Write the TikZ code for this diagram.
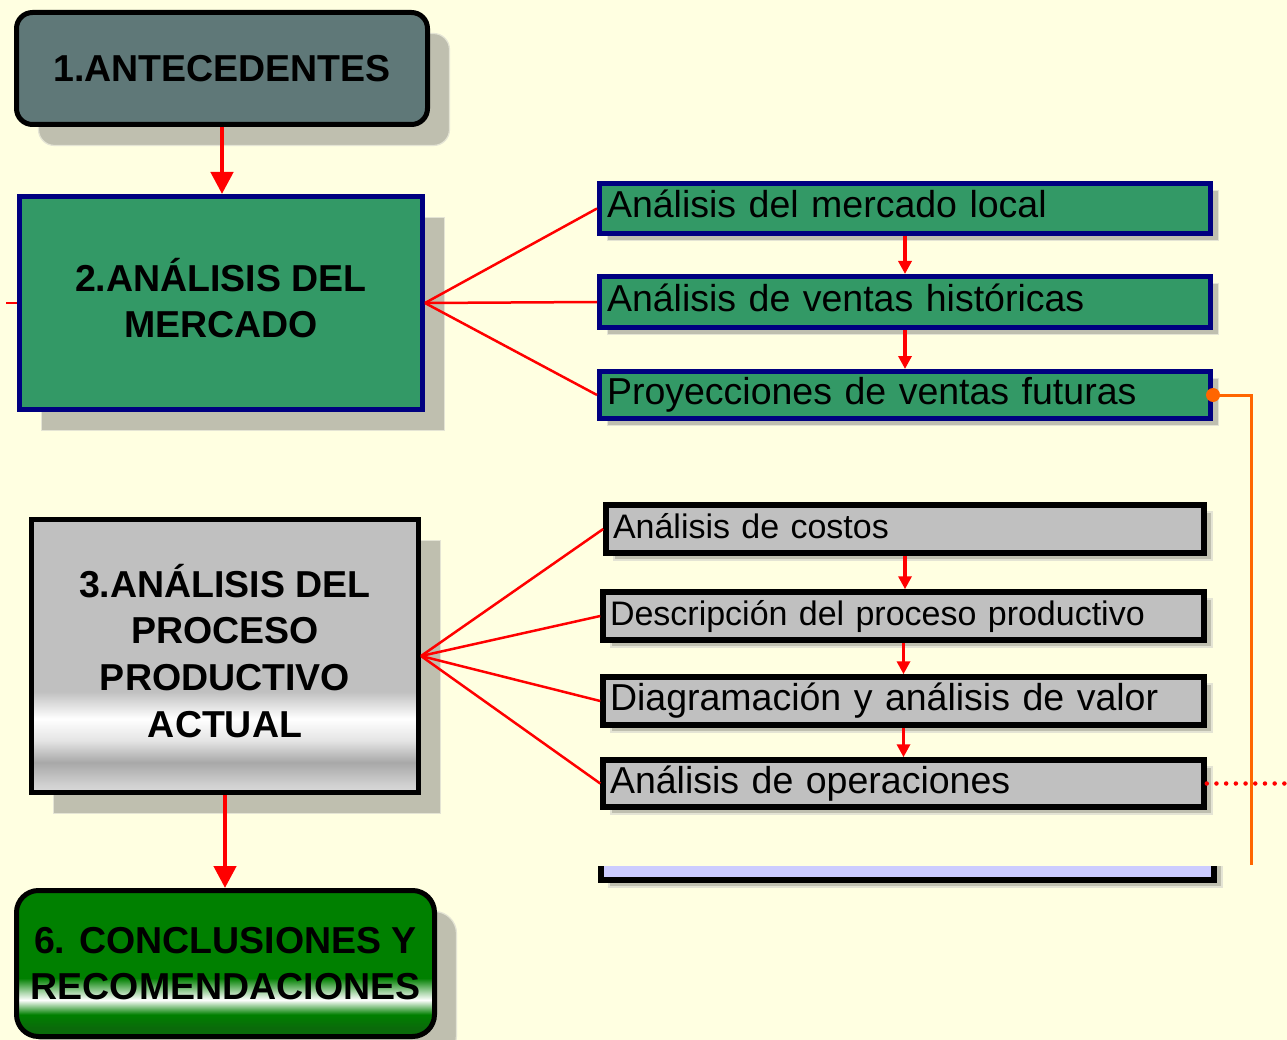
\documentclass[tikz,border=0pt]{standalone}
\usepackage{fontspec}
\setmainfont{Liberation Sans}
\usetikzlibrary{arrows.meta,shadows,calc}
\definecolor{bgc}{HTML}{FFFFE1}
\definecolor{shadowc}{HTML}{BFBFAF}
\definecolor{shadowedge}{HTML}{E4E4D4}
\definecolor{slate}{HTML}{5F7878}
\definecolor{mgreen}{HTML}{339966}
\definecolor{navy}{HTML}{000080}
\definecolor{grayc}{HTML}{C0C0C0}
\definecolor{dgreen}{HTML}{008000}
\definecolor{lav}{HTML}{CCCCFF}
\definecolor{orangec}{HTML}{FF6600}
\definecolor{redc}{HTML}{FF0000}
\definecolor{silA}{HTML}{DADADA}
\definecolor{silB}{HTML}{D0D0D0}
\definecolor{silC}{HTML}{A8A8A8}
\definecolor{silD}{HTML}{E4E4E4}
\definecolor{grA}{HTML}{0A6A0A}
\definecolor{grB}{HTML}{80C080}
\definecolor{grC}{HTML}{B0D8B0}
\pgfdeclareverticalshading{silverband}{100bp}{color(0bp)=(silA); color(25bp)=(silA); color(26.5bp)=(silB); color(30.5bp)=(silC); color(34.5bp)=(silD); color(38.5bp)=(white); color(43.5bp)=(grayc); color(100bp)=(grayc)}
\pgfdeclareverticalshading{greenband}{100bp}{color(0bp)=(grA); color(25bp)=(grA); color(28bp)=(grA); color(32.5bp)=(dgreen); color(35bp)=(grB); color(37.5bp)=(white); color(40bp)=(grC); color(45bp)=(dgreen); color(100bp)=(dgreen)}
\tikzset{
  bigtext/.style={font=\bfseries\fontsize{37.5}{46}\selectfont, align=center, inner sep=0pt},
  bigshadow/.style={general shadow={shadow xshift=22pt, shadow yshift=-21pt, fill=shadowc, draw=shadowedge, line width=1.2pt}},
  smallshadow/.style={general shadow={shadow xshift=8pt, shadow yshift=-7pt, fill=shadowc, draw=shadowedge, line width=1.2pt}},
  greenbox/.style={draw=navy, fill=mgreen, line width=5pt, smallshadow,
    font=\fontsize{37.5}{45}\selectfont, align=left, inner xsep=7.5pt, inner ysep=0pt,
    text height=27pt, text depth=8pt, text width=596pt, minimum width=611pt},
  graybox/.style={draw=black, fill=grayc, line width=5.5pt, smallshadow,
    align=left, inner xsep=7pt, inner ysep=0pt, text width=587pt, minimum width=601pt},
  smallfont/.style={font=\fontsize{34}{40}\selectfont, text height=25pt, text depth=7pt},
  largefont/.style={font=\fontsize{37.5}{45}\selectfont, text height=27pt, text depth=8pt},
  bigarrow/.style={draw=redc, line width=4.5pt, -{Triangle[width=22pt,length=22pt]}},
  smallarrow/.style={draw=redc, line width=3.5pt, -{Triangle[width=13pt,length=13pt]}},
  fanline/.style={draw=redc, line width=2.5pt},
  reddots/.style={draw=redc, line width=4.5pt, line cap=round, dash pattern=on 0pt off 9.7pt},
  orangeline/.style={draw=orangec, line width=3pt},
}
\begin{document}
\begin{tikzpicture}[x=1pt,y=-1pt]
\useasboundingbox (0,0) rectangle (1287,1040);
\fill[bgc] (0,0) rectangle (1287,1040);

% main column
\node[bigtext, draw=black, fill=slate, line width=5pt, rounded corners=16pt, bigshadow,
      minimum width=411pt, minimum height=112pt] (ant) at (222,68.5) {1.ANTECEDENTES};
\node[bigtext, draw=navy, fill=mgreen, line width=5pt, bigshadow,
      minimum width=403pt, minimum height=213pt] (mer) at (221,303)
      {2.ANÁLISIS DEL\\MERCADO\rule[-11pt]{0pt}{11pt}};
\node[bigtext, draw=black, shading=silverband, line width=5pt, bigshadow,
      font=\bfseries\fontsize{37.5}{46.7}\selectfont,
      minimum width=387pt, minimum height=273pt] (proc) at (225,656)
      {3.ANÁLISIS DEL\\PROCESO\\PRODUCTIVO\\ACTUAL\rule[-11pt]{0pt}{11pt}};
\node[bigtext, draw=black, shading=greenband, line width=5pt, rounded corners=22pt, bigshadow,
      minimum width=418pt, minimum height=146pt] (conc) at (225.5,963.5)
      {6. CONCLUSIONES Y\\RECOMENDACIONES};

% market sub-steps
\node[greenbox, minimum height=50pt] (A) at (905,208.5) {Análisis del mercado local};
\node[greenbox, minimum height=51pt] (B) at (905,302) {Análisis de ventas históricas};
\node[greenbox, minimum height=47pt] (C) at (905,395) {Proyecciones de ventas futuras};

% process sub-steps
\node[graybox, smallfont, text width=584pt, minimum width=598pt, minimum height=48pt] (D) at (905,529) {Análisis de costos};
\node[graybox, smallfont, minimum height=48pt] (E) at (903.5,616) {Descripción del proceso productivo};
\node[graybox, largefont, minimum height=48pt] (F) at (903.5,701) {Diagramación y análisis de valor};
\node[graybox, largefont, minimum height=47pt] (G) at (903.5,783.5) {Análisis de operaciones};

% partially hidden box
\begin{scope}
  \clip (560,866) rectangle (1287,905);
  \node[draw=black, fill=lav, line width=6pt, smallshadow, minimum width=613pt, minimum height=40pt, inner sep=0pt] (H) at (907.5,860) {};
\end{scope}

% connectors
\coordinate (stub) at (6,303);
\draw[fanline] (stub) -- (mer.west);
\draw[bigarrow] (ant.south) -- (ant.south |- mer.north);
\draw[bigarrow] (proc.south) -- (proc.south |- conc.north);

\draw[fanline] (mer.east) -- (A.west);
\draw[fanline] (mer.east) -- (B.west);
\draw[fanline] (mer.east) -- (C.west);
\draw[smallarrow] (A.south) -- (B.north);
\draw[smallarrow] (B.south) -- (C.north);

\draw[fanline] (proc.east) -- (D.west);
\draw[fanline] (proc.east) -- (E.west);
\draw[fanline] (proc.east) -- (F.west);
\draw[fanline] (proc.east) -- (G.west);
\draw[smallarrow] (D.south) -- (D.south |- E.north);
\draw[smallarrow] (E.south) -- (F.north);
\draw[smallarrow] (F.south) -- (G.north);

\coordinate (dotend) at (1292,783.5);
\draw[reddots] (G.east) -- (dotend);

\coordinate (oend) at (1251,865);
\draw[orangeline] (C.east) -| (oend);
\fill[orangec] (C.east) circle (7pt);
\end{tikzpicture}
\end{document}
